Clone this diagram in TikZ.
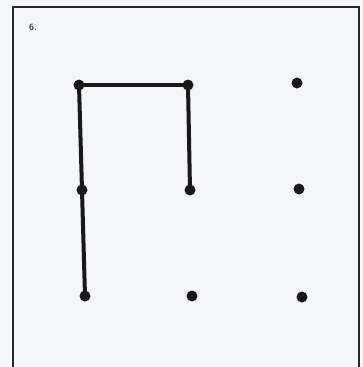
\documentclass[tikz,border=0pt]{standalone}
\usepackage{tikz}
\begin{document}
\begin{tikzpicture}[x=1bp,y=-1bp,
  dotnode/.style={circle,fill=black!90,inner sep=0pt,minimum size=11bp},
  seg/.style={line width=4bp,black!90},
  frameline/.style={line width=2.8bp,black!85}]
\useasboundingbox[fill={rgb,255:red,244;green,246;blue,250}] (0,0) rectangle (363,367);
\begin{scope}
\clip (0,0) rectangle (363,367);
\draw[frameline] (13,370) -- (13,7) -- (359,7) -- (359,370);
\end{scope}
\node[font=\sffamily\bfseries\fontsize{9}{10}\selectfont,black!75] (lbl) at (33,27) {6.};
\node[dotnode] (a1) at (79,85) {};
\node[dotnode] (a2) at (188,85) {};
\node[dotnode] (a3) at (297,83) {};
\node[dotnode] (b1) at (82,190) {};
\node[dotnode] (b2) at (190,190) {};
\node[dotnode] (b3) at (299,189) {};
\node[dotnode] (c1) at (85,296) {};
\node[dotnode] (c2) at (192,296) {};
\node[dotnode] (c3) at (302,297) {};
\draw[seg] (a1.center) -- (a2.center);
\draw[seg] (a1.center) -- (b1.center) -- (c1.center);
\draw[seg] (a2.center) -- (b2.center);
\end{tikzpicture}
\end{document}
